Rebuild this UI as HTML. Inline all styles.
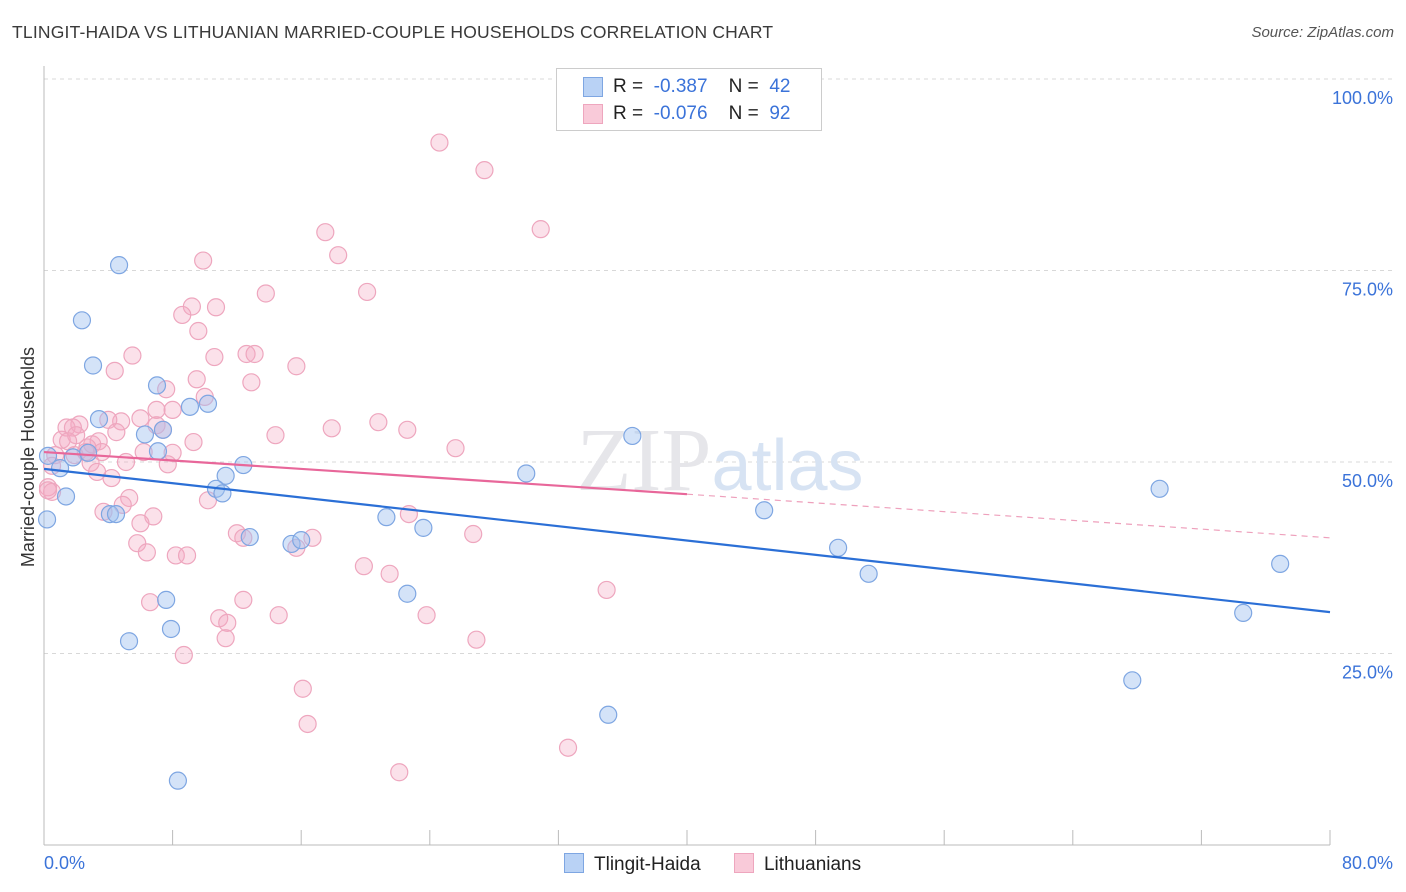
<!DOCTYPE html>
<html><head><meta charset="utf-8">
<style>
body{margin:0;background:#fff;font-family:"Liberation Sans",sans-serif;}
#wrap{position:relative;width:1406px;height:892px;overflow:hidden;}
.t{position:absolute;white-space:nowrap;}
</style></head>
<body>
<div id="wrap">
<div class="t" style="left:12px;top:22px;font-size:17.5px;color:#3a3a3a;letter-spacing:0.2px">TLINGIT-HAIDA VS LITHUANIAN MARRIED-COUPLE HOUSEHOLDS CORRELATION CHART</div>
<div class="t" style="right:12px;top:24px;font-size:15px;color:#555;font-style:italic">Source: ZipAtlas.com</div>
<svg id="svg" width="1406" height="892" style="position:absolute;left:0;top:0"></svg>
</div>
<script>
const blueX=[4.67,2.36,3.05,7.03,3.42,9.08,10.2,7.4,6.28,7.09,0.25,1.0,1.8,2.74,12.4,11.3,10.7,11.1,1.37,0.19,4.1,4.48,12.8,15.4,16.0,21.3,23.6,22.6,7.6,5.29,7.9,8.33,35.1,36.6,30.0,44.8,49.4,51.3,69.4,76.9,74.6,67.7];
const blueY=[75.7,68.5,62.6,60.0,55.6,57.2,57.6,54.2,53.6,51.4,50.8,49.2,50.6,51.2,49.6,48.2,46.5,45.9,45.5,42.5,43.2,43.2,40.2,39.3,39.8,42.8,41.4,32.8,32.0,26.6,28.2,8.4,17.0,53.4,48.5,43.7,38.8,35.4,46.5,36.7,30.3,21.5];
const pinkX=[24.6,27.4,30.9,17.5,18.3,9.9,20.1,13.8,9.2,10.7,8.6,9.6,5.5,10.6,12.6,13.1,15.7,4.4,9.5,12.9,7.6,10.0,6.0,7.0,8.0,4.8,4.0,2.2,1.4,1.8,7.0,7.4,4.5,14.4,17.9,20.8,22.6,25.6,1.1,2.0,3.0,3.4,1.5,9.3,6.2,8.0,2.7,3.6,0.7,1.9,2.6,2.9,7.7,5.1,0.5,3.3,4.2,0.25,0.5,10.2,5.3,4.9,3.7,6.8,6.0,12.0,12.4,15.7,16.7,5.8,6.4,8.2,8.9,26.7,19.9,21.5,12.4,6.6,10.9,11.4,14.6,23.8,11.3,8.7,26.9,35.0,16.1,16.4,32.6,22.1,22.7,0.25];
const pinkY=[91.7,88.1,80.4,80.0,77.0,76.3,72.2,72.0,70.3,70.2,69.2,67.1,63.9,63.7,64.1,64.1,62.5,61.9,60.8,60.4,59.5,58.5,55.7,56.8,56.8,55.3,55.5,54.9,54.5,54.5,54.8,54.2,53.9,53.5,54.4,55.2,54.2,51.8,52.9,53.5,52.3,52.7,52.7,52.6,51.3,51.2,51.9,51.3,50.9,50.9,51.3,49.9,49.7,50.0,49.5,48.7,47.9,46.7,46.1,45.0,45.3,44.4,43.5,42.9,42.0,40.7,40.1,38.8,40.1,39.4,38.2,37.8,37.8,40.6,36.4,35.4,32.0,31.7,29.6,29.0,30.0,30.0,27.0,24.8,26.8,33.3,20.4,15.8,12.7,9.5,43.2,46.3];
const blueTrend=[49.1,30.4];
const pinkTrend=[51.3,45.8,40.1];
const yTicks=[25,50,75,100];
const yTickLabels=["25.0%","50.0%","75.0%","100.0%"];
const xTickLabels=["0.0%","80.0%"];

const svg=document.getElementById('svg');
const NS='http://www.w3.org/2000/svg';
const X0=44,X1=1330,Y0=845,Ytop=79;
const sx=v=>X0+(v/80)*(X1-X0);
const sy=v=>Y0-(v/100)*(Y0-Ytop);
function mk(tag,attrs){const e=document.createElementNS(NS,tag);for(const k in attrs)e.setAttribute(k,attrs[k]);svg.appendChild(e);return e;}

yTicks.forEach((t,i)=>{
 const g=mk('line',{x1:X0,x2:1394,y1:sy(t),y2:sy(t),stroke:'#d8d8d8','stroke-dasharray':'4,4'});
 
 
 const tx=mk('text',{x:1393,y:sy(t)+25,'text-anchor':'end','font-size':18,fill:'#3b73d9','font-family':'Liberation Sans, sans-serif'});
 tx.textContent=yTickLabels[i];
 
 
});
const ax=mk('line',{x1:X0,x2:X0,y1:66,y2:Y0,stroke:'#bbb'});


const bx=mk('line',{x1:X0,x2:X1,y1:Y0,y2:Y0,stroke:'#bbb'});


for(let i=0;i<=10;i++){
 const tk=mk('line',{x1:sx(i*8),x2:sx(i*8),y1:Y0,y2:Y0-15,stroke:'#bbb'});
 
 
}
[[0,'start',44],[80,'end',1393]].forEach((d,i)=>{
 const tx=mk('text',{x:d[2],y:869,'text-anchor':d[1],'font-size':18,fill:'#3b73d9','font-family':'Liberation Sans, sans-serif'});
 tx.textContent=xTickLabels[i];
 
 
});
const yt=mk('text',{x:0,y:0,transform:'translate(34,457) rotate(-90)','text-anchor':'middle','font-size':18,fill:'#333','font-family':'Liberation Sans, sans-serif'});
yt.textContent='Married-couple Households';


const wm=mk('text',{x:720,y:490,'text-anchor':'middle','font-size':90,fill:'#e6e6ea','font-family':'Liberation Serif, serif'});
wm.innerHTML='ZIP<tspan fill="#d7e3f3" font-family="Liberation Sans, sans-serif" font-size="72">atlas</tspan>';



pinkX.forEach((x,i)=>{
 const c=mk('circle',{cx:sx(x),cy:sy(pinkY[i]),r:8.5,fill:'rgba(244,168,196,0.35)',stroke:'#eea6be','stroke-width':1.2});
 
 
});
blueX.forEach((x,i)=>{
 const c=mk('circle',{cx:sx(x),cy:sy(blueY[i]),r:8.5,fill:'rgba(160,192,240,0.45)',stroke:'#7ea6e2','stroke-width':1.2});
 
 
});
const bl=mk('line',{x1:sx(0),y1:sy(blueTrend[0]),x2:sx(80),y2:sy(blueTrend[1]),stroke:'#2b6fd6','stroke-width':2.2});


const pl=mk('line',{x1:sx(0),y1:sy(pinkTrend[0]),x2:sx(40),y2:sy(pinkTrend[1]),stroke:'#e8679a','stroke-width':2.2});


const pd=mk('line',{x1:sx(40),y1:sy(pinkTrend[1]),x2:sx(80),y2:sy(pinkTrend[2]),stroke:'#eea0bc','stroke-width':1.2,'stroke-dasharray':'6,5'});


</script>
<div class="t" style="left:556px;top:68px;width:264px;height:61px;border:1px solid #ccc;background:#fff;font-size:19px;color:#222">
 <div style="position:absolute;left:26px;top:8px;width:18px;height:18px;background:#b9d2f5;border:1px solid #7ea6e2"></div>
 <div class="t" style="left:56px;top:7px">R = &nbsp;<span style="color:#3b73d9">-0.387</span> &nbsp;&nbsp; N = &nbsp;<span style="color:#3b73d9">42</span></div>
 <div style="position:absolute;left:26px;top:35px;width:18px;height:18px;background:#f9cad9;border:1px solid #eea6be"></div>
 <div class="t" style="left:56px;top:34px">R = &nbsp;<span style="color:#3b73d9">-0.076</span> &nbsp;&nbsp; N = &nbsp;<span style="color:#3b73d9">92</span></div>
</div>
<div class="t" style="left:564px;top:853px;font-size:19px;color:#222">
 <span style="display:inline-block;width:18px;height:18px;background:#b9d2f5;border:1px solid #7ea6e2;vertical-align:-3px;margin-right:10px"></span>Tlingit-Haida
 <span style="display:inline-block;width:18px;height:18px;background:#f9cad9;border:1px solid #eea6be;vertical-align:-3px;margin:0 10px 0 28px"></span>Lithuanians
</div>
</body></html>
